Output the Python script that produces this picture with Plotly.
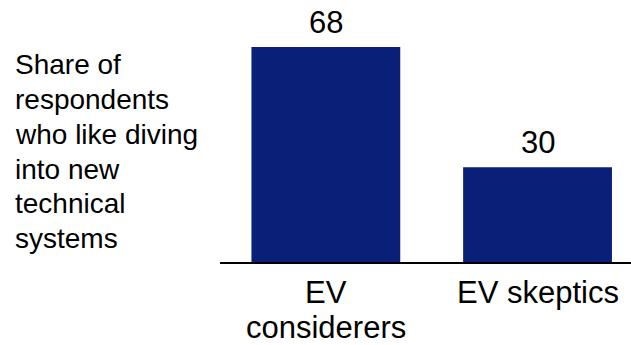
import plotly.graph_objects as go

# Chart data
categories = ["EV considerers", "EV skeptics"]
shares = [68, 30]
tick_label_lines = [["EV", "considerers"], ["EV skeptics"]]
side_label_lines = ["Share of", "respondents", "who like diving", "into new", "technical", "systems"]

BAR_COLOR = "#0A1F78"
FONT = "Liberation Sans, Arial, sans-serif"

W, H = 631, 345
M_L, M_B, M_T, M_R = 220, 83, 0, 0
plot_h = H - M_B - M_T

VALUE_SIZE = 31
TICK_SIZE = 31
SIDE_SIZE = 28
LINE_STEP = 35


def below_baseline(size):
    # distance from the text baseline to the bottom of an annotation box
    return 0.212 * size + 2


fig = go.Figure(
    go.Bar(
        x=categories,
        y=shares,
        marker=dict(color=BAR_COLOR, line=dict(width=0)),
        hoverinfo="skip",
    )
)

# Value labels above each bar
for cat, val in zip(categories, shares):
    fig.add_annotation(
        text=str(val),
        xref="x", yref="y", x=cat, y=val,
        xanchor="center", yanchor="bottom",
        yshift=13.4 - below_baseline(VALUE_SIZE),
        showarrow=False,
        font=dict(family=FONT, size=VALUE_SIZE, color="#000000"),
    )

# Category labels under the axis, one annotation per text line
for cat, lines in zip(categories, tick_label_lines):
    for j, line in enumerate(lines):
        fig.add_annotation(
            text=line,
            xref="x", yref="y", x=cat, y=0,
            xanchor="center", yanchor="bottom",
            yshift=-(41.3 + j * LINE_STEP + below_baseline(TICK_SIZE)),
            showarrow=False,
            font=dict(family=FONT, size=TICK_SIZE, color="#000000"),
        )

# Multi-line description to the left of the bars
first_baseline = 74.3
for i, line in enumerate(side_label_lines):
    baseline_px = first_baseline + i * 34.8
    fig.add_annotation(
        text=line,
        xref="paper", yref="paper",
        x=(13 - M_L) / (W - M_L - M_R),
        y=(H - M_B - baseline_px) / plot_h,
        xanchor="left", yanchor="bottom",
        yshift=-below_baseline(SIDE_SIZE),
        showarrow=False,
        font=dict(family=FONT, size=SIDE_SIZE, color="#000000"),
    )

fig.update_layout(
    width=W, height=H,
    margin=dict(l=M_L, r=M_R, t=M_T, b=M_B, pad=0, autoexpand=False),
    paper_bgcolor="white", plot_bgcolor="white",
    bargap=0.297,
    showlegend=False,
    font=dict(family=FONT, color="#000000"),
    xaxis=dict(
        type="category",
        range=[-0.5, 1.4415],
        automargin=False,
        showline=True, linecolor="#000000", linewidth=2,
        showgrid=False, zeroline=False,
        ticks="", showticklabels=False,
    ),
    yaxis=dict(
        range=[0, 82.86],
        visible=False,
    ),
)

fig.write_html("out.html")
